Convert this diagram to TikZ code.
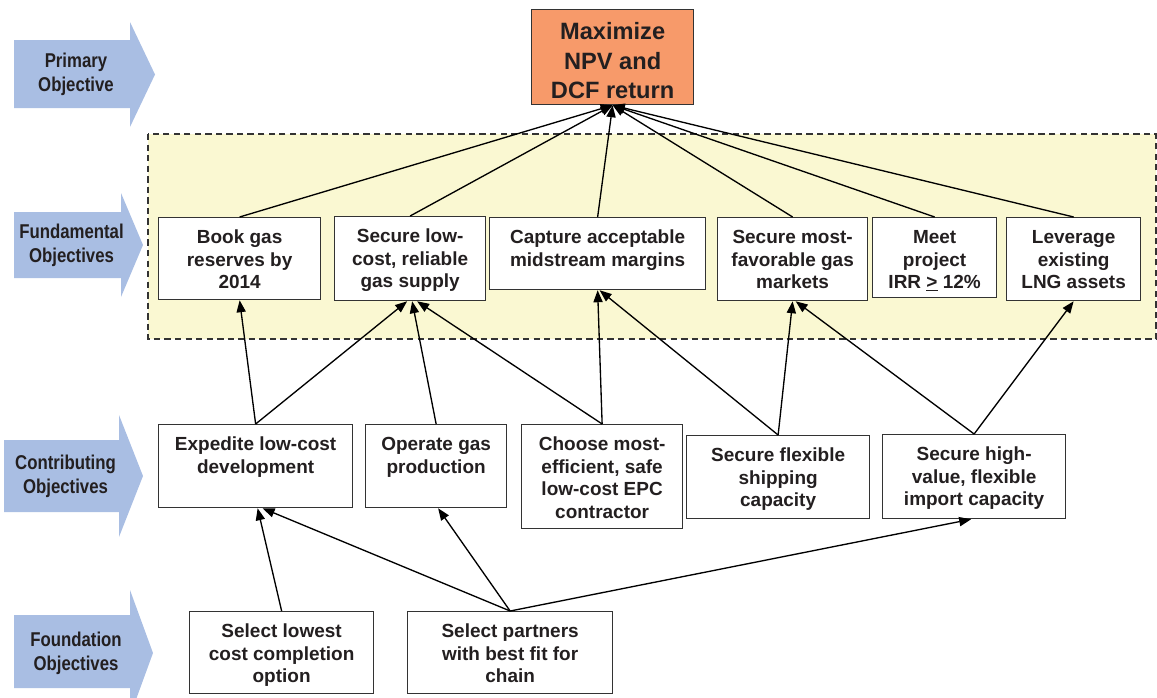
\documentclass[tikz,border=0pt]{standalone}
\usepackage{fontspec}
\setmainfont{Liberation Sans}
\newfontfamily\narrowsans[FakeStretch=0.84]{Liberation Sans}
\usetikzlibrary{arrows.meta}
\definecolor{npvorange}{HTML}{F79A6A}
\definecolor{bandyellow}{HTML}{FAF8D2}
\definecolor{levelblue}{HTML}{A9BEE3}
\definecolor{inkgray}{HTML}{231F20}
\definecolor{edgegray}{HTML}{333333}
\newlength{\px}
\setlength{\px}{0.025cm}
\newcommand{\goaltext}[3]{\parbox[c][#2\px][t]{#1\px}{\centering\rule{0pt}{26\px}#3}}

\begin{document}
\begin{tikzpicture}[
  x=0.025cm, y=-0.025cm,
  goal/.style={draw=edgegray,line width=0.9pt,fill=white,inner sep=0pt,anchor=north west,
               text=inkgray,font=\bfseries\fontsize{13.5pt}{16pt}\selectfont},
  top goal/.style={goal,fill=npvorange,font=\bfseries\fontsize{16.8pt}{21pt}\selectfont},
  level/.style={align=center,text=inkgray,
                font=\narrowsans\bfseries\fontsize{14.2pt}{17pt}\selectfont},
  link/.style={-{Triangle[length=8.5pt,width=6.5pt]},line width=0.95pt,black}
]
  \useasboundingbox (0,0) rectangle (1157,697);

  % level arrows on the left
  \foreach \xa/\xb/\yt/\yb/\hu/\hl/\tip/\name/\txt in {
      14/130/40/108/22/127/155/primary/{Primary\\Objective},
      14/121/212/278/193/297/143/fundamental/{Fundamental\\Objectives},
      4/119/440/512/415/537/143/contributing/{Contributing\\Objectives},
      14/130/615/688/590/716/153/foundation/{Foundation\\Objectives}}{
    \fill[levelblue] (\xa,\yt) -- (\xb,\yt) -- (\xb,\hu) -- (\tip,{(\hu+\hl)/2})
      -- (\xb,\hl) -- (\xb,\yb) -- (\xa,\yb) -- cycle;
    \node[level] (lvl\name) at ({(\xa+\xb)/2+4},{(\hu+\hl)/2}) {\txt};
  }

  % fundamental band
  \filldraw[fill=bandyellow,draw=edgegray,line width=0.9pt,dash pattern=on 4.5pt off 3pt]
    (148,134) rectangle (1156,339);

  % primary
  \node[top goal] (npv) at (531,9)
    {\parbox[c][95\px][t]{162\px}{\centering\rule{0pt}{30\px}Maximize\\NPV and\\DCF return}};

  % fundamental
  \node[goal] (reserves) at (158,217) {\goaltext{162}{82}{Book gas\\reserves by\\2014}};
  \node[goal] (supply)   at (334,216) {\goaltext{151}{84}{Secure low-\\cost, reliable\\gas supply}};
  \node[goal] (margins)  at (489,217) {\goaltext{216}{72}{Capture acceptable\\midstream margins}};
  \node[goal] (markets)  at (717,217) {\goaltext{150}{83}{Secure most-\\favorable gas\\markets}};
  \node[goal] (irr)      at (872,217) {\goaltext{124}{80}{Meet\\project\\IRR \underline{>} 12\%}};
  \node[goal] (lng)      at (1006,217) {\goaltext{134}{83}{Leverage\\existing\\LNG assets}};

  % contributing
  \node[goal] (expedite) at (158,424) {\goaltext{194}{83}{Expedite low-cost\\development}};
  \node[goal] (operate)  at (365,424) {\goaltext{141}{83}{Operate gas\\production}};
  \node[goal] (epc)      at (521,424) {\goaltext{161}{104}{Choose most-\\efficient, safe\\low-cost EPC\\contractor}};
  \node[goal] (shipping) at (686,435) {\goaltext{183}{83}{Secure flexible\\shipping\\capacity}};
  \node[goal] (import)   at (882,434) {\goaltext{183}{84}{Secure high-\\value, flexible\\import capacity}};

  % foundation
  \node[goal] (completion) at (189,611) {\goaltext{184}{82}{Select lowest\\cost completion\\option}};
  \node[goal] (partners)   at (407,611) {\goaltext{205}{82}{Select partners\\with best fit for\\chain}};

  % fundamental -> primary
  \foreach \src in {reserves,supply,margins,markets,irr,lng}
    \draw[link] (\src.north) -- (npv.south);

  % contributing -> fundamental
  \draw[link] (expedite.north) -- (reserves.south);
  \draw[link] (expedite.north) -- ([xshift=-3\px]supply.south);
  \draw[link] (operate.north) -- ([xshift=2\px]supply.south);
  \draw[link] (epc.north) -- ([xshift=7\px]supply.south);
  \draw[link] (epc.north) -- (margins.south);
  \draw[link] (shipping.north) -- ([xshift=2\px]margins.south);
  \draw[link] (shipping.north) -- (markets.south);
  \draw[link] (import.north) -- ([xshift=3\px]markets.south);
  \draw[link] (import.north) -- (lng.south);

  % foundation -> contributing
  \draw[link] (completion.north) -- ([xshift=2\px]expedite.south);
  \draw[link] (partners.north) -- ([xshift=7\px]expedite.south);
  \draw[link] (partners.north) -- ([xshift=2\px]operate.south);
  \draw[link] (partners.north) -- ([xshift=-3\px]import.south);
\end{tikzpicture}
\end{document}
